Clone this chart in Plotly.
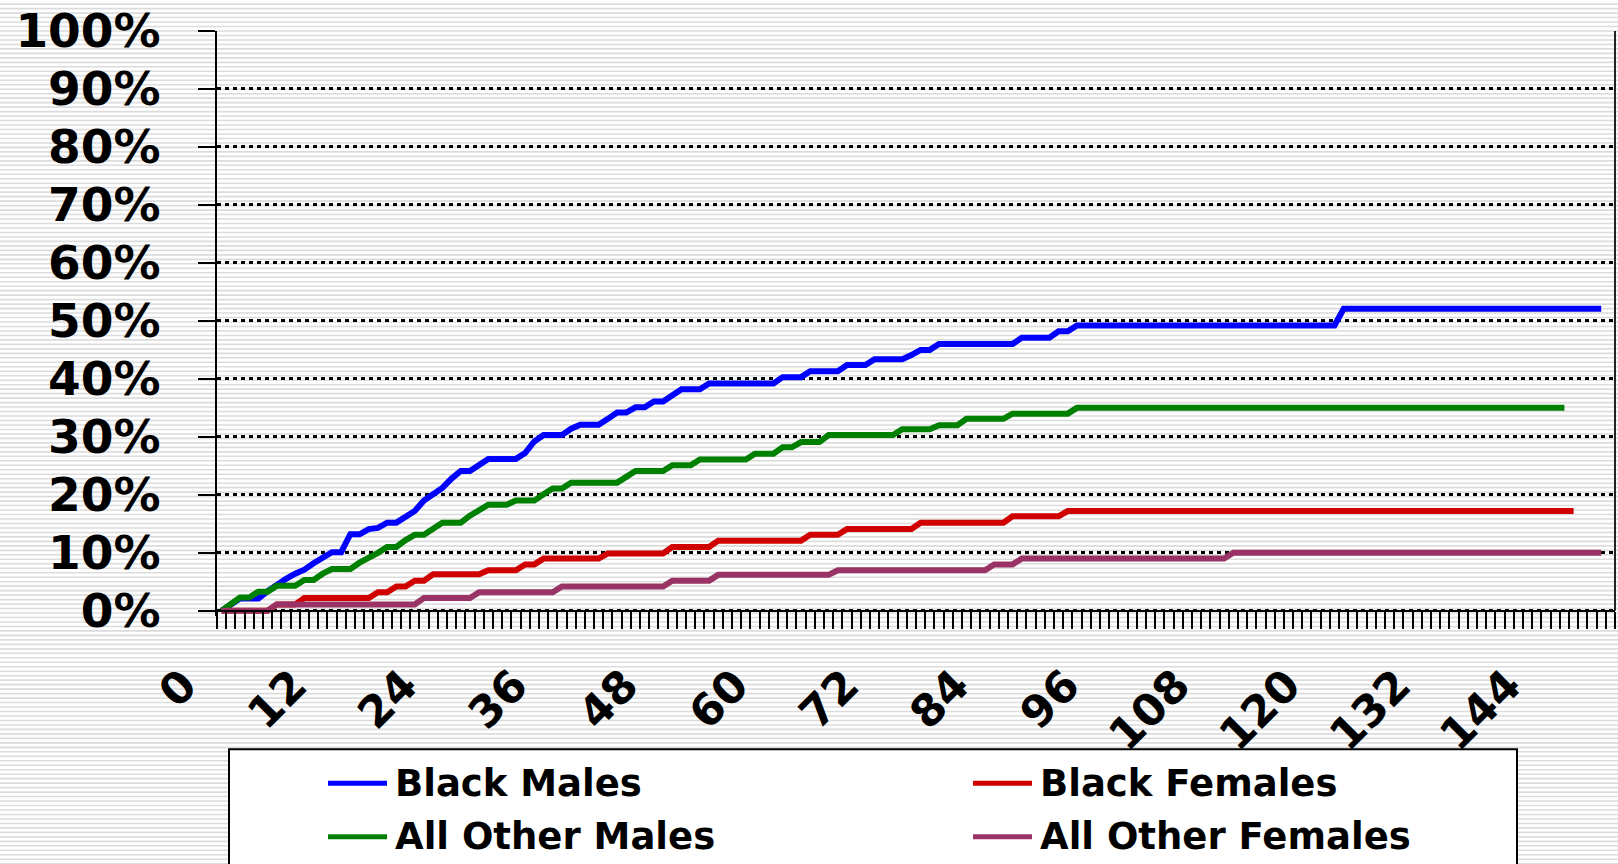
import plotly.graph_objects as go

# ---- data -------------------------------------------------------------
# Month slots on the category axis (0..151) and the labelled months
n_slots = 152
tick_months = list(range(0, 145, 12))
tick_labels = [str(m) for m in tick_months]

pct_ticks = list(range(0, 101, 10))
pct_labels = [f"{v}%" for v in pct_ticks]

# Cumulative percentage by month, one value per month
black_males = [
    0.0, 1.0, 2.1, 2.1, 2.1, 3.4, 4.6, 5.5, 6.4, 7.1, 8.2, 9.2,
    10.1, 10.1, 13.2, 13.2, 14.1, 14.3, 15.2, 15.2, 16.3, 17.2, 19.0, 20.0,
    21.2, 22.8, 24.1, 24.1, 25.1, 26.2, 26.2, 26.2, 26.2, 27.2, 29.2, 30.3,
    30.3, 30.3, 31.4, 32.1, 32.1, 32.1, 33.1, 34.2, 34.2, 35.1, 35.1, 36.1,
    36.1, 37.2, 38.2, 38.2, 38.2, 39.2, 39.2, 39.2, 39.2, 39.2, 39.2, 39.2,
    39.2, 40.3, 40.3, 40.3, 41.3, 41.3, 41.3, 41.3, 42.4, 42.4, 42.4, 43.4,
    43.4, 43.4, 43.4, 44.1, 45.0, 45.0, 46.0, 46.0, 46.0, 46.0, 46.0, 46.0,
    46.0, 46.0, 46.0, 47.1, 47.1, 47.1, 47.1, 48.2, 48.2, 49.2, 49.2, 49.2,
    49.2, 49.2, 49.2, 49.2, 49.2, 49.2, 49.2, 49.2, 49.2, 49.2, 49.2, 49.2,
    49.2, 49.2, 49.2, 49.2, 49.2, 49.2, 49.2, 49.2, 49.2, 49.2, 49.2, 49.2,
    49.2, 49.2, 52.1, 52.1, 52.1, 52.1, 52.1, 52.1, 52.1, 52.1, 52.1, 52.1,
    52.1, 52.1, 52.1, 52.1, 52.1, 52.1, 52.1, 52.1, 52.1, 52.1, 52.1, 52.1,
    52.1, 52.1, 52.1, 52.1, 52.1, 52.1, 52.1,
]

black_females = [
    0.0, 0.0, 0.0, 0.0, 0.0, 0.0, 1.1, 1.1, 1.1, 2.2, 2.2, 2.2,
    2.2, 2.2, 2.2, 2.2, 2.2, 3.2, 3.2, 4.2, 4.2, 5.2, 5.2, 6.3,
    6.3, 6.3, 6.3, 6.3, 6.3, 7.0, 7.0, 7.0, 7.0, 8.0, 8.0, 9.0,
    9.0, 9.0, 9.0, 9.0, 9.0, 9.0, 9.9, 9.9, 9.9, 9.9, 9.9, 9.9,
    9.9, 11.0, 11.0, 11.0, 11.0, 11.0, 12.1, 12.1, 12.1, 12.1, 12.1, 12.1,
    12.1, 12.1, 12.1, 12.1, 13.1, 13.1, 13.1, 13.1, 14.1, 14.1, 14.1, 14.1,
    14.1, 14.1, 14.1, 14.1, 15.2, 15.2, 15.2, 15.2, 15.2, 15.2, 15.2, 15.2,
    15.2, 15.2, 16.3, 16.3, 16.3, 16.3, 16.3, 16.3, 17.2, 17.2, 17.2, 17.2,
    17.2, 17.2, 17.2, 17.2, 17.2, 17.2, 17.2, 17.2, 17.2, 17.2, 17.2, 17.2,
    17.2, 17.2, 17.2, 17.2, 17.2, 17.2, 17.2, 17.2, 17.2, 17.2, 17.2, 17.2,
    17.2, 17.2, 17.2, 17.2, 17.2, 17.2, 17.2, 17.2, 17.2, 17.2, 17.2, 17.2,
    17.2, 17.2, 17.2, 17.2, 17.2, 17.2, 17.2, 17.2, 17.2, 17.2, 17.2, 17.2,
    17.2, 17.2, 17.2, 17.2,
]

other_males = [
    0.0, 1.2, 2.3, 2.3, 3.3, 3.3, 4.3, 4.3, 4.3, 5.3, 5.3, 6.4,
    7.2, 7.2, 7.2, 8.3, 9.1, 10.0, 11.0, 11.0, 12.2, 13.1, 13.1, 14.3,
    15.2, 15.2, 15.2, 16.4, 17.4, 18.3, 18.3, 18.3, 19.0, 19.0, 19.0, 20.1,
    21.1, 21.1, 22.1, 22.1, 22.1, 22.1, 22.1, 22.1, 23.1, 24.1, 24.1, 24.1,
    24.1, 25.1, 25.1, 25.1, 26.1, 26.1, 26.1, 26.1, 26.1, 26.1, 27.1, 27.1,
    27.1, 28.2, 28.2, 29.1, 29.1, 29.1, 30.3, 30.3, 30.3, 30.3, 30.3, 30.3,
    30.3, 30.3, 31.3, 31.3, 31.3, 31.3, 32.0, 32.0, 32.0, 33.1, 33.1, 33.1,
    33.1, 33.1, 34.0, 34.0, 34.0, 34.0, 34.0, 34.0, 34.0, 35.0, 35.0, 35.0,
    35.0, 35.0, 35.0, 35.0, 35.0, 35.0, 35.0, 35.0, 35.0, 35.0, 35.0, 35.0,
    35.0, 35.0, 35.0, 35.0, 35.0, 35.0, 35.0, 35.0, 35.0, 35.0, 35.0, 35.0,
    35.0, 35.0, 35.0, 35.0, 35.0, 35.0, 35.0, 35.0, 35.0, 35.0, 35.0, 35.0,
    35.0, 35.0, 35.0, 35.0, 35.0, 35.0, 35.0, 35.0, 35.0, 35.0, 35.0, 35.0,
    35.0, 35.0, 35.0,
]

other_females = [
    0.0, 0.0, 0.0, 0.0, 0.0, 0.0, 1.1, 1.1, 1.1, 1.1, 1.1, 1.1,
    1.1, 1.1, 1.1, 1.1, 1.1, 1.1, 1.1, 1.1, 1.1, 1.1, 2.2, 2.2,
    2.2, 2.2, 2.2, 2.2, 3.2, 3.2, 3.2, 3.2, 3.2, 3.2, 3.2, 3.2,
    3.2, 4.2, 4.2, 4.2, 4.2, 4.2, 4.2, 4.2, 4.2, 4.2, 4.2, 4.2,
    4.2, 5.2, 5.2, 5.2, 5.2, 5.2, 6.2, 6.2, 6.2, 6.2, 6.2, 6.2,
    6.2, 6.2, 6.2, 6.2, 6.2, 6.2, 6.2, 7.0, 7.0, 7.0, 7.0, 7.0,
    7.0, 7.0, 7.0, 7.0, 7.0, 7.0, 7.0, 7.0, 7.0, 7.0, 7.0, 7.0,
    8.0, 8.0, 8.0, 9.0, 9.0, 9.0, 9.0, 9.0, 9.0, 9.0, 9.0, 9.0,
    9.0, 9.0, 9.0, 9.0, 9.0, 9.0, 9.0, 9.0, 9.0, 9.0, 9.0, 9.0,
    9.0, 9.0, 10.0, 10.0, 10.0, 10.0, 10.0, 10.0, 10.0, 10.0, 10.0, 10.0,
    10.0, 10.0, 10.0, 10.0, 10.0, 10.0, 10.0, 10.0, 10.0, 10.0, 10.0, 10.0,
    10.0, 10.0, 10.0, 10.0, 10.0, 10.0, 10.0, 10.0, 10.0, 10.0, 10.0, 10.0,
    10.0, 10.0, 10.0, 10.0, 10.0, 10.0, 10.0,
]

series_names = ["Black Males", "Black Females", "All Other Males", "All Other Females"]
series_values = [black_males, black_females, other_males, other_females]
series_colors = ["#0000FF", "#D00000", "#008000", "#993366"]

# ---- geometry -------------------------------------------------------------
W, H = 1618, 864
ML, MR, MT, MB = 217, 3, 28, 248
PW = W - ML - MR
PH = H - MT - MB
Y_LOW = -0.9  # a little room under 0% so the lines at zero are not cut


def px_x(px):
    return (px - ML) / PW


def px_y(py):
    return 1 - (py - MT) / PH


FONT = "DejaVu Sans"

fig = go.Figure()

for name, vals, color in zip(series_names, series_values, series_colors):
    fig.add_trace(go.Scatter(
        x=list(range(len(vals))), y=vals, mode="lines", name=name,
        line=dict(color=color, width=6), showlegend=False,
        hoverinfo="skip",
    ))

shapes = []

# horizontal pinstripe background across the whole chart
stripe_step = 4.5
parts = []
yy = 1.0
while yy < H + 2:
    parts.append(f"M{px_x(-2):.5f},{px_y(yy):.5f}L{px_x(W + 2):.5f},{px_y(yy):.5f}")
    yy += stripe_step
shapes.append(dict(type="path", xref="paper", yref="paper", path="".join(parts),
                   line=dict(color="#dcdcdc", width=1.6), layer="below"))

# legend frame (runs off the bottom edge)
shapes.append(dict(type="rect", xref="paper", yref="paper",
                   x0=px_x(229), x1=px_x(1517), y0=px_y(H + 20), y1=px_y(750),
                   fillcolor="white", line=dict(color="black", width=2), layer="below"))

# right border of the plot area
shapes.append(dict(type="line", xref="paper", yref="y", x0=1, x1=1, y0=0, y1=100,
                   line=dict(color="#222222", width=2)))

# legend entries
annotations = []
col_line_x = [328, 973]
col_text_x = [393, 1038]
row_y = [784, 838]
for idx, (name, color) in enumerate(zip(series_names, series_colors)):
    col, row = idx % 2, idx // 2
    shapes.append(dict(type="line", xref="paper", yref="paper",
                       x0=px_x(col_line_x[col]), x1=px_x(col_line_x[col] + 59),
                       y0=px_y(row_y[row]), y1=px_y(row_y[row]),
                       line=dict(color=color, width=5)))
    annotations.append(dict(xref="paper", yref="paper", x=px_x(col_text_x[col]),
                            y=px_y(row_y[row]), xanchor="left", yanchor="middle",
                            text=name, showarrow=False,
                            font=dict(family=FONT, size=37, color="black", weight="bold")))

fig.update_layout(
    width=W, height=H,
    margin=dict(l=ML, r=MR, t=MT, b=MB, pad=0),
    paper_bgcolor="white", plot_bgcolor="white",
    shapes=shapes, annotations=annotations,
    showlegend=False,
    xaxis=dict(
        range=[-0.5, n_slots - 0.5],
        tickmode="array", tickvals=tick_months, ticktext=tick_labels,
        tickangle=-45, ticks="",
        tickfont=dict(family=FONT, size=44, color="black", weight="bold"),
        ticklabelshift=-38, ticklabelstandoff=30,
        showgrid=False, zeroline=False,
        showline=True, linecolor="black", linewidth=2,
        anchor="free", position=(0 - Y_LOW) / (100 - Y_LOW),
        minor=dict(tick0=-0.5, dtick=1, ticks="outside", ticklen=17,
                   tickwidth=2, tickcolor="black", showgrid=False),
        fixedrange=True,
    ),
    yaxis=dict(
        range=[Y_LOW, 100],
        tickmode="array", tickvals=pct_ticks, ticktext=pct_labels,
        ticks="outside", ticklen=17, tickwidth=2, tickcolor="black",
        tickfont=dict(family=FONT, size=47, color="black", weight="bold"),
        ticklabelstandoff=28,
        showgrid=True, gridcolor="black", gridwidth=3, griddash="4px,4px",
        zeroline=False,
        showline=True, linecolor="black", linewidth=2,
        fixedrange=True,
    ),
)

fig.write_html("out.html")
